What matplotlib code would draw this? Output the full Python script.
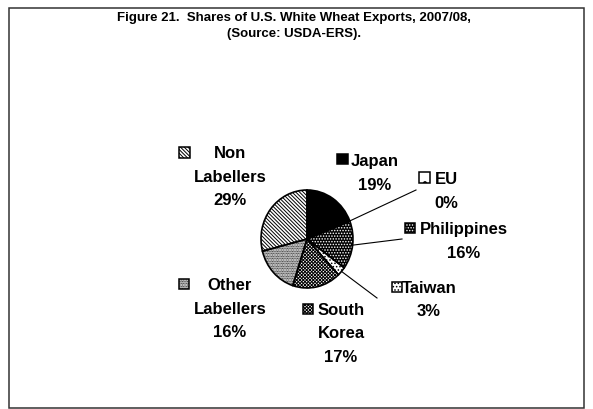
import math
import matplotlib.pyplot as plt
from matplotlib.patches import Rectangle

plt.rcParams['font.family'] = ['Liberation Sans', 'DejaVu Sans']
plt.rcParams['font.weight'] = 'bold'
plt.rcParams['hatch.linewidth'] = 0.7

# data
names = ['Japan', 'EU', 'Philippines', 'Taiwan', 'South\nKorea', 'Other\nLabellers', 'Non\nLabellers']
shares = [19, 0, 16, 3, 17, 16, 29]

# fill styles per slice: face colour, hatch, hatch colour
faces = ['black', 'white', 'black', 'white', 'white', 'white', 'white']
hatches = [None, '.', '.' * 6, '.' * 5, 'x' * 10, '.' * 10, '\\' * 9]
hcols = ['black', 'black', 'white', 'black', 'black', 'black', 'black']

W, H = 593, 409
fig = plt.figure(figsize=(W / 100, H / 100), dpi=100)

# pie (slightly taller than wide, like the original)
cx, cy, rx, ry = 307, 239, 46, 49
m = 1.1
ax = fig.add_axes([(cx - rx * m) / W, 1 - (cy + ry * m) / H, 2 * rx * m / W, 2 * ry * m / H])
wedges, _ = ax.pie(shares, startangle=90, counterclock=False, colors=faces,
                   wedgeprops=dict(linewidth=0))
for w, h, c in zip(wedges, hatches, hcols):
    if h:
        w.set_hatch(h)
        w.set_edgecolor(c)
ax.pie(shares, startangle=90, counterclock=False, colors=['none'] * len(shares),
       wedgeprops=dict(linewidth=1.2, edgecolor='black'))
ax.set_xlim(-m, m)
ax.set_ylim(-m, m)
ax.set_aspect('auto')

# overlay in pixel coordinates for labels, leaders and frame
ov = fig.add_axes([0, 0, 1, 1])
ov.set_xlim(0, W)
ov.set_ylim(H, 0)
ov.axis('off')

ov.add_patch(Rectangle((9, 8), 575, 400, fill=False, edgecolor='#333333', lw=1.1, clip_on=False))

ov.text(294, 21.5, 'Figure 21.  Shares of U.S. White Wheat Exports, 2007/08,',
        ha='center', va='baseline', fontsize=9.5)
ov.text(294, 37.5, '(Source: USDA-ERS).', ha='center', va='baseline', fontsize=9.5)

# label layout: marker centre x, y ; text centre x, first line centre y
layout = [
    (342.5, 159, 375, 160),
    (424.5, 177.5, 446, 178),
    (410, 228, 464, 228),
    (397, 287, 429, 287),
    (308, 309, 341, 309),
    (184, 284, 230, 284),
    (184.5, 152.5, 230, 152),
]
# leader line ends for slices whose label sits away from the pie
leaders = {1: (416, 190), 2: (402, 239), 3: (377, 298)}

fs = 12
dy = 23.5
sq = 10.5
for i, (name, v) in enumerate(zip(names, shares)):
    mx, my, tx, ty = layout[i]
    r = Rectangle((mx - sq / 2, my - sq / 2), sq, sq, facecolor=faces[i], lw=0)
    if hatches[i]:
        r.set_hatch(hatches[i])
        r.set_edgecolor(hcols[i])
    ov.add_patch(r)
    ov.add_patch(Rectangle((mx - sq / 2, my - sq / 2), sq, sq, fill=False,
                           edgecolor='black', lw=1.1))
    lines = name.split('\n') + ['%d%%' % v]
    for k, s in enumerate(lines):
        ov.text(tx, ty + k * dy + 6, s, ha='center', va='baseline', fontsize=fs)
    if i in leaders:
        w = wedges[i]
        a = math.radians((w.theta1 + w.theta2) / 2)
        px = cx + rx * math.cos(a)
        py = cy - ry * math.sin(a)
        lx, ly = leaders[i]
        ov.plot([px, lx], [py, ly], color='black', lw=0.8)

fig.savefig('out.png', dpi=100)
